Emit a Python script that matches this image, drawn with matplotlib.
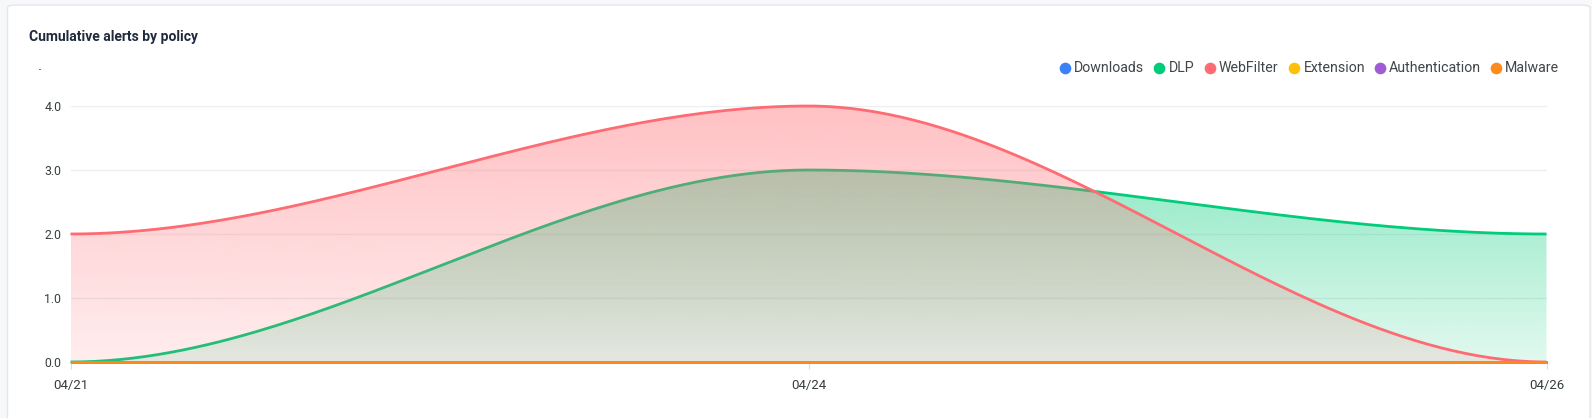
import numpy as np
import matplotlib
matplotlib.use("Agg")
import matplotlib.pyplot as plt
from matplotlib.patches import Polygon, FancyBboxPatch
from matplotlib.colors import to_rgb

plt.rcParams['font.family'] = ['Roboto', 'DejaVu Sans']

# ---- data ----
categories = ["04/21", "04/24", "04/26"]
series_names = ["Downloads", "DLP", "WebFilter", "Extension", "Authentication", "Malware"]
downloads = [0, 0, 0]
dlp = [0, 3, 2]
webfilter = [2, 4, 0]
extension = [0, 0, 0]
authentication = [0, 0, 0]
malware = [0, 0, 0]
series_values = [downloads, dlp, webfilter, extension, authentication, malware]
colors = ["#3b82f6", "#00cc7a", "#ff6b72", "#ffc107", "#a05cd6", "#ff8a1c"]
yticks = [0.0, 1.0, 2.0, 3.0, 4.0]

W, H = 1592, 418
fig = plt.figure(figsize=(W / 100, H / 100), dpi=100)
fig.patch.set_facecolor("#f7f8f9")

# card
card = FancyBboxPatch((7.5 / W, -20 / H), (1590 - 7.5) / W, (H - 5 + 20) / H,
                      boxstyle="round,pad=0,rounding_size=0.006",
                      transform=fig.transFigure, facecolor="white",
                      edgecolor="#e4e6ea", linewidth=1.0, zorder=-10)
fig.patches.append(card)

ax = fig.add_axes([70.5 / W, 1 - 362 / H, (1546.5 - 70.5) / W, (362 - 106) / H])
ax.set_facecolor("none")
ax.set_zorder(1)


def smooth_curve(xs, ys, n=120):
    # cubic bezier with horizontal tangents at every point (control points at 1/3)
    px, py = [], []
    for i in range(len(xs) - 1):
        x0, x1 = xs[i], xs[i + 1]
        y0, y1 = ys[i], ys[i + 1]
        c0 = x0 + (x1 - x0) / 3
        c1 = x1 - (x1 - x0) / 3
        t = np.linspace(0, 1, n)
        bx = (1 - t) ** 3 * x0 + 3 * (1 - t) ** 2 * t * c0 + 3 * (1 - t) * t ** 2 * c1 + t ** 3 * x1
        by = (1 - t) ** 3 * y0 + 3 * (1 - t) ** 2 * t * y0 + 3 * (1 - t) * t ** 2 * y1 + t ** 3 * y1
        if i > 0:
            bx, by = bx[1:], by[1:]
        px.extend(bx)
        py.extend(by)
    return np.array(px), np.array(py)


def gradient_fill(ax, x, y, color, a_top, a_bot, zorder):
    ymax = float(np.max(y))
    if ymax <= 0:
        return
    verts = np.column_stack([np.r_[x, x[-1], x[0]], np.r_[y, 0, 0]])
    poly = Polygon(verts, closed=True, facecolor="none", edgecolor="none")
    ax.add_patch(poly)
    grad = np.linspace(a_top, a_bot, 256).reshape(-1, 1)
    rgba = np.zeros((256, 1, 4))
    rgba[..., :3] = to_rgb(color)
    rgba[..., 3] = grad
    im = ax.imshow(rgba, extent=[x[0], x[-1], 0, ymax], origin="upper",
                   aspect="auto", zorder=zorder, interpolation="bilinear")
    im.set_clip_path(poly)


xs = np.arange(len(categories))
for i, (name, vals, col) in enumerate(zip(series_names, series_values, colors)):
    cx, cy = smooth_curve(xs, vals)
    gradient_fill(ax, cx, cy, col, 0.42, 0.12, zorder=2 + i * 2)
    ax.plot(cx, cy, color=col, lw=2.0, zorder=3 + i * 2, clip_on=False,
            solid_capstyle="butt")

ax.set_xlim(0, 2)
ax.set_ylim(0, 4)
ax.set_yticks(yticks)
ax.set_yticklabels([f"{v:.1f}" for v in yticks])
ax.set_xticks(xs)
ax.set_xticklabels(categories)
for v in yticks:
    ax.axhline(v, color="#eceef1", lw=1.0, zorder=1)
for s in ax.spines.values():
    s.set_visible(False)
ax.tick_params(axis="y", length=0, pad=6.5, labelsize=8.8, labelcolor="#373d3f")
ax.tick_params(axis="x", length=5, width=0.8, color="#dcdcdc", pad=7,
               labelsize=9.5, labelcolor="#373d3f")

# title and y-axis title dot
fig.text(28.5 / W, 1 - 36.5 / H, "Cumulative alerts by policy", fontsize=10,
         fontweight="bold", color="#1f2a3d", va="center", ha="left")
fig.text(39.5 / W, 1 - 66 / H, ".", fontsize=11, color="#373d3f", va="center", ha="center")

# legend
leg_y = 1 - 67.5 / H
marker_x = [1064.5, 1159.4, 1209.7, 1294, 1380, 1496]
text_x = [1074, 1168.5, 1219, 1303.5, 1389, 1505]
for name, col, mx, tx in zip(series_names, colors, marker_x, text_x):
    fig.lines.append(plt.Line2D([mx / W], [leg_y], marker="o", markersize=8.4,
                                color=col, markeredgewidth=0,
                                transform=fig.transFigure))
    fig.text(tx / W, leg_y, name, fontsize=10.2, color="#40464a",
             va="center", ha="left")

fig.savefig("out.png", dpi=100, facecolor=fig.get_facecolor())
